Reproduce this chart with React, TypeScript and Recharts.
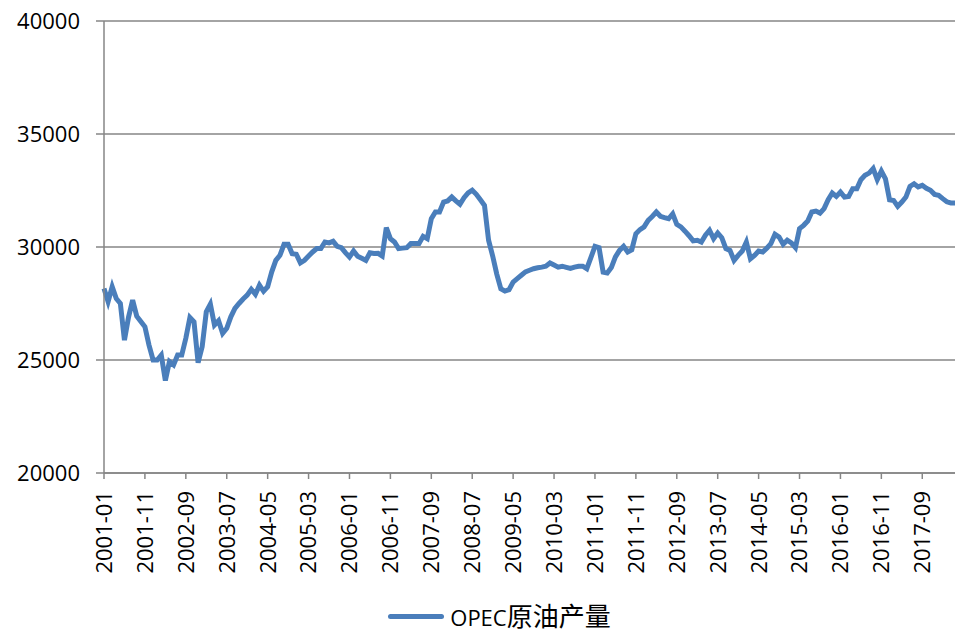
import { LineChart, Line, XAxis, YAxis, CartesianGrid, Legend } from "recharts";

// monthly, 2001-01 .. 2018-05
const START_YEAR = 2001;
const MONTH_COUNT = 209;
const months: string[] = [];
for (let i = 0; i < MONTH_COUNT; i++) {
  const y = START_YEAR + Math.floor(i / 12);
  const m = (i % 12) + 1;
  months.push(`${y}-${m < 10 ? "0" + m : m}`);
}

const opecOutput = [
  28160, 27580, 28240, 27720, 27500, 25880, 26900, 27650, 26940, 26700,
  26470, 25660, 25000, 25000, 25220, 24090, 24930, 24780, 25220, 25220,
  25960, 26880, 26690, 24880, 25590, 27130, 27470, 26550, 26740, 26180,
  26400, 26910, 27280, 27500, 27700, 27870, 28130, 27910, 28310, 28040,
  28240, 28900, 29410, 29630, 30120, 30120, 29700, 29680, 29300, 29410,
  29600, 29780, 29930, 29930, 30220, 30180, 30250, 30030, 29970, 29750,
  29560, 29820, 29590, 29500, 29410, 29740, 29710, 29720, 29600, 30855,
  30370, 30220, 29930, 29950, 29970, 30150, 30150, 30150, 30470, 30370,
  31250, 31550, 31550, 31990, 32040, 32210, 32040, 31890, 32180, 32390,
  32510, 32330, 32090, 31840, 30300, 29600, 28800, 28150, 28050, 28110,
  28450, 28600, 28750, 28900, 28970, 29040, 29080, 29110, 29150, 29290,
  29200, 29110, 29150, 29100, 29050, 29110, 29150, 29150, 29040, 29530,
  30030, 29970, 28890, 28850, 29090, 29560, 29850, 30030, 29780, 29880,
  30590, 30770, 30890, 31180, 31350, 31550, 31360, 31300, 31250, 31470,
  31000, 30890, 30700, 30500, 30270, 30300, 30220, 30520, 30740, 30370,
  30620, 30410, 29930, 29850, 29410, 29630, 29820, 30220, 29480, 29630,
  29820, 29780, 29950, 30150, 30560, 30440, 30120, 30300, 30180, 29970,
  30810, 30960, 31150, 31550, 31590, 31500, 31700, 32090, 32390, 32240,
  32430, 32210, 32240, 32580, 32580, 32980, 33170, 33270, 33470, 32980,
  33360, 33020, 32090, 32060, 31800, 31990, 32210, 32680, 32800, 32660,
  32730, 32600, 32510, 32330, 32290, 32140, 32000, 31950, 31950,
];

const yTicks = [20000, 25000, 30000, 35000, 40000];
const seriesName = "OPEC原油产量";

const data = months.map((month, i) => ({ month, value: opecOutput[i] }));

const FONT = "'Open Sans', 'Noto Sans CJK SC', sans-serif";
const LINE_COLOR = "#4a7ebb";
const GRID = "#868686";

const MonthTick = (props: any) => {
  const { x, y, payload } = props;
  return (
    <text
      x={x}
      y={y}
      transform={`rotate(-90, ${x}, ${y})`}
      textAnchor="end"
      dy="0.36em"
      fontFamily={FONT}
      fontSize={22}
      fill="#000"
    >
      {payload.value}
    </text>
  );
};

const LegendBox = () => (
  <div
    style={{
      display: "flex",
      justifyContent: "center",
      alignItems: "center",
      height: 36,
      paddingLeft: 36,
      lineHeight: "36px",
    }}
  >
    <div style={{ width: 56, height: 5, borderRadius: 3, background: LINE_COLOR, marginRight: 6 }} />
    <span style={{ fontFamily: FONT, fontSize: 22, color: "#000", whiteSpace: "nowrap" }}>
      OPEC<span style={{ fontSize: 26 }}>原油产量</span>
    </span>
  </div>
);

export default function App() {
  return (
    <LineChart
      width={955}
      height={626}
      data={data}
      margin={{ top: 13, right: 8, left: 0, bottom: 0 }}
    >
      <CartesianGrid vertical={false} stroke={GRID} strokeWidth={1.5} />
      <XAxis
        dataKey="month"
        interval={9}
        height={125}
        tickSize={6}
        tickMargin={12}
        stroke={GRID}
        strokeWidth={1.5}
        tick={<MonthTick />}
      />
      <YAxis
        width={96}
        domain={[20000, 40000]}
        ticks={yTicks}
        tickSize={8}
        tickMargin={16}
        stroke={GRID}
        strokeWidth={1.5}
        tick={{ fontFamily: FONT, fontSize: 22, fill: "#000" }}
      />
      <Legend verticalAlign="bottom" content={<LegendBox />} />
      <Line
        type="linear"
        dataKey="value"
        name={seriesName}
        stroke={LINE_COLOR}
        strokeWidth={5}
        dot={false}
        isAnimationActive={false}
      />
    </LineChart>
  );
}
